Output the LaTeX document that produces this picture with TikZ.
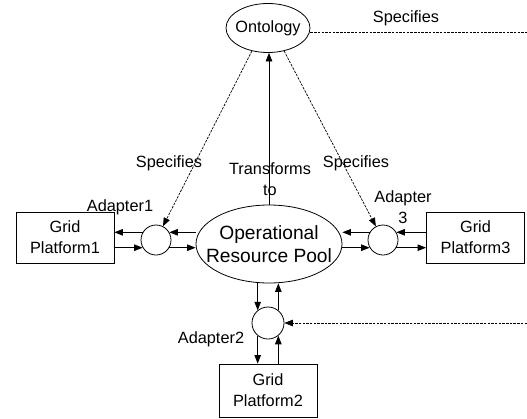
\documentclass[tikz,border=0pt]{standalone}
\usepackage{fontspec}
\setmainfont{Liberation Sans}
\usetikzlibrary{arrows.meta,shapes.geometric}
\begin{document}
\begin{tikzpicture}[x=1pt,y=-1pt,
  txt/.style={font=\fontsize{16.3}{21}\selectfont, align=center, inner sep=0pt},
  oval/.style={draw, ellipse, line width=0.8pt, inner sep=0pt},
  platform/.style={draw, rectangle, line width=0.8pt, inner sep=0pt, txt,
    minimum width=98pt, minimum height=51pt},
  adapter/.style={draw, circle, line width=0.8pt, inner sep=0pt, minimum size=30pt},
  flow/.style={line width=0.8pt, -{Triangle[length=8.5pt,width=6.5pt]}},
  spec/.style={line width=0.7pt, dash pattern=on 2.5pt off 1.2pt},
  specarrow/.style={spec, -{Triangle[length=8.5pt,width=6.5pt]}}]
\useasboundingbox (0,0) rectangle (527,418);

% ontology and the resource pool (outlines, then their texts)
\node[oval, minimum width=84pt, minimum height=49pt] (ont) at (268,28) {};
\node[txt] (ontText) at (ont.center) {Ontology};
\node[oval, minimum width=146pt, minimum height=78pt] (orp) at (269,244) {};
\node[font=\fontsize{19.2}{23}\selectfont, align=center, inner sep=0pt]
      (orpText) at (orp.center) {Operational\\Resource Pool};

% grid platforms
\node[platform] (gp1) at (65,237.5) {Grid\\Platform1};
\node[platform] (gp3) at (475.5,237.5) {Grid\\Platform3};
\node[platform, minimum height=53pt] (gp2) at (268,390.5) {Grid\\Platform2};

% adapters
\node[adapter] (a1) at (156,240) {};
\node[adapter] (a3) at (383,240) {};
\node[adapter, minimum size=32pt] (a2) at (268,323) {};

% labels
\node[txt] (la1) at (120,207) {Adapter1};
\node[txt] (la3) at (403,207) {Adapter\\3};
\node[txt] (la2) at (211,339) {Adapter2};
\node[txt] (lt) at (270,179) {Transforms\\to};
\node[txt] (ls1) at (169,163) {Specifies};
\node[txt] (ls3) at (356,163) {Specifies};
\node[txt] (ls0) at (406,18) {Specifies};

% free ends of the dashed connectors
\coordinate (edgeTop) at (527,32);
\coordinate (edgeBot) at (527,323);

% transformation
\draw[flow] (orp.north) -- (orp.north |- ont.south);

% ontology specifications
\draw[specarrow] (ont.235) -- (a1);
\draw[specarrow] (ont.305) -- (a3);
\draw[spec] (ont.east |- edgeTop) -- (edgeTop);
\draw[specarrow] (edgeBot) -- (a2.east);

% adapter 1
\draw[flow] (a1.150) -- (a1.150 -| gp1.east);
\draw[flow] (orp.west |- a1.150) -- (a1.30);
\draw[flow] (gp1.east |- a1.210) -- (a1.210);
\draw[flow] (a1.330) -- (a1.330 -| orp.west);

% adapter 3
\draw[flow] (gp3.west |- a3.30) -- (a3.30);
\draw[flow] (a3.150) -- (a3.150 -| orp.east);
\draw[flow] (orp.east |- a3.210) -- (a3.210);
\draw[flow] (a3.330) -- (a3.330 -| gp3.west);

% adapter 2
\draw[flow] (a2.129 |- orp.south) -- (a2.129);
\draw[flow] (a2.231) -- (a2.231 |- gp2.north);
\draw[flow] (a2.309 |- gp2.north) -- (a2.309);
\draw[flow] (a2.51) -- (a2.51 |- orp.south);
\end{tikzpicture}
\end{document}
